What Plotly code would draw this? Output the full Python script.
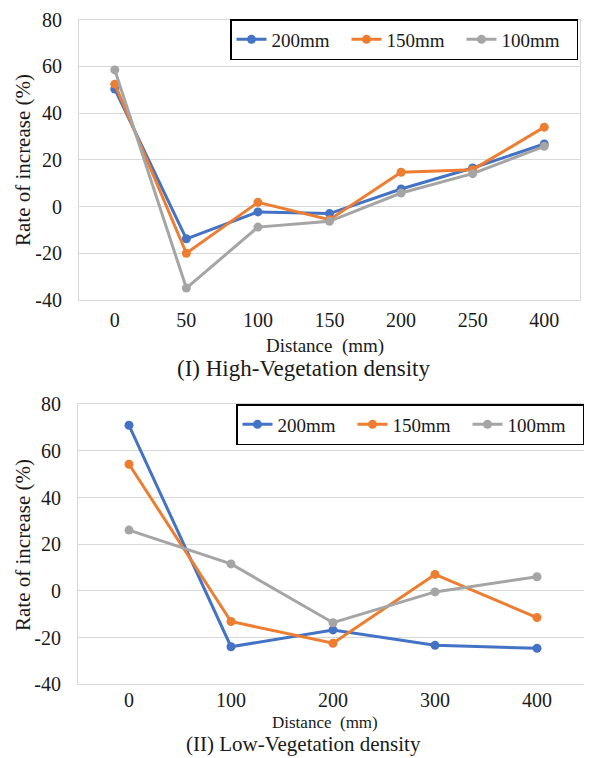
import plotly.graph_objects as go

# ---- data ----
series_names = ["200mm", "150mm", "100mm"]
colors = ["#4472C4", "#ED7D31", "#A5A5A5"]

high_cats = ["0", "50", "100", "150", "200", "250", "400"]
high_200 = [50.3, -13.8, -2.3, -3.0, 7.5, 16.5, 26.8]
high_150 = [52.4, -20.0, 1.8, -5.6, 14.7, 15.8, 34.0]
high_100 = [58.5, -34.9, -8.8, -6.3, 5.8, 14.1, 25.8]

low_cats = ["0", "100", "200", "300", "400"]
low_200 = [71.0, -23.9, -16.7, -23.3, -24.6]
low_150 = [54.3, -13.1, -22.4, 7.1, -11.4]
low_100 = [26.1, 11.6, -13.6, -0.4, 6.1]

y_ticks = [-40, -20, 0, 20, 40, 60, 80]
y_tick_labels = ["-40", "-20", "0", "20", "40", "60", "80"]

# page body has an 8px margin; figure is sized to fill the rest of the window
OFF = 8
W, H = 592 - OFF, 758 - OFF
FONT = "Liberation Serif"

def px(sx):
    return (sx - OFF) / W

def py(sy):
    return 1 - (sy - OFF) / H

fig = go.Figure()

for name, col, vals in zip(series_names, colors, [high_200, high_150, high_100]):
    fig.add_trace(go.Scatter(x=high_cats, y=vals, name=name, mode="lines+markers",
                             line=dict(color=col, width=3), marker=dict(color=col, size=9),
                             xaxis="x", yaxis="y", legend="legend"))
for name, col, vals in zip(series_names, colors, [low_200, low_150, low_100]):
    fig.add_trace(go.Scatter(x=low_cats, y=vals, name=name, mode="lines+markers",
                             line=dict(color=col, width=3), marker=dict(color=col, size=9),
                             xaxis="x2", yaxis="y2", legend="legend2"))

grid = "#d9d9d9"
tickfont = dict(family=FONT, size=20, color="#1a1a1a")
axis_common = dict(showgrid=False, showline=True, linecolor=grid, linewidth=1, mirror=True,
                   ticks="", tickfont=tickfont, zeroline=False, automargin=False)
yaxis_common = dict(range=[-40, 80], tickvals=y_ticks, ticktext=y_tick_labels,
                    showgrid=True, gridcolor=grid, gridwidth=1,
                    showline=True, linecolor=grid, mirror=True, zeroline=False, ticks="",
                    tickfont=tickfont, ticklabelstandoff=12, automargin=False)
legend_common = dict(orientation="h", xanchor="left", yanchor="top",
                     bordercolor="black", borderwidth=1.5, bgcolor="white",
                     font=dict(family=FONT, size=19, color="#1a1a1a"),
                     entrywidth=70, itemwidth=30, tracegroupgap=0, itemclick=False)

fig.update_layout(
    template="none",
    width=W, height=H, margin=dict(l=0, r=0, t=0, b=0, autoexpand=False),
    paper_bgcolor="white", plot_bgcolor="white",
    font=dict(family=FONT, color="#1a1a1a"),
    xaxis=dict(domain=[px(79), px(580)], anchor="y", type="category",
               range=[-0.5, 6.5], ticklabelstandoff=2, **axis_common),
    yaxis=dict(domain=[py(300), py(19.7)], anchor="x", **yaxis_common),
    xaxis2=dict(domain=[px(78), px(588)], anchor="y2", type="category",
                range=[-0.5, 4.5], ticklabelstandoff=-2, **axis_common),
    yaxis2=dict(domain=[py(684.3), py(404.3)], anchor="x2", **yaxis_common),
    legend=dict(x=px(230), y=py(19), **legend_common),
    legend2=dict(x=px(236), y=py(404), **legend_common),
    showlegend=True,
)

def add_ann(text, x, y, size, angle=0):
    fig.add_annotation(text=text, x=px(x), y=py(y), xref="paper", yref="paper",
                       xanchor="center", yanchor="middle", textangle=angle, showarrow=False,
                       font=dict(family=FONT, size=size, color="#1a1a1a"))

add_ann("Rate of increase (%)", 23, 160, 21, -90)
add_ann("Rate of increase (%)", 23, 545, 21, -90)
add_ann("Distance\u2002(mm)", 325, 346, 19)
add_ann("(I) High-Vegetation density", 303, 368, 23)
add_ann("Distance\u2002(mm)", 325, 722, 17)
add_ann("(II) Low-Vegetation density", 303, 744, 21)

fig.write_html("out.html")
